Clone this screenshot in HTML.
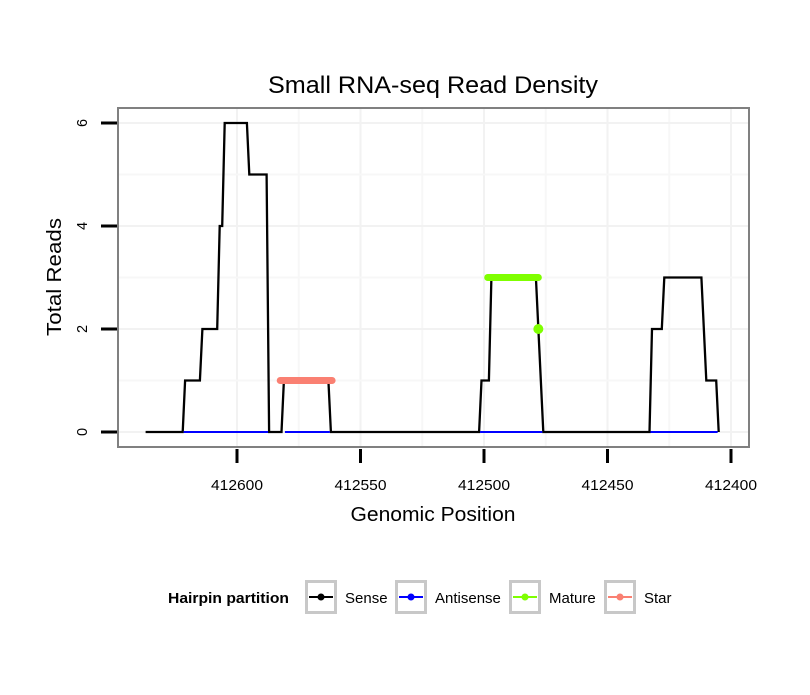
<!DOCTYPE html>
<html><head><meta charset="utf-8"><style>
body{margin:0;background:#fff}
svg text{font-family:"Liberation Sans",sans-serif}
</style></head><body>
<svg id="c" width="810" height="690" viewBox="0 0 810 690" xmlns="http://www.w3.org/2000/svg">
<rect width="810" height="690" fill="#fff"/>
<text x="433" y="93" font-size="24" text-anchor="middle" textLength="330" lengthAdjust="spacingAndGlyphs">Small RNA-seq Read Density</text>
<g id="grid"></g>
<g id="marks"></g>
<rect x="118" y="108" width="631" height="339" fill="none" stroke="#808080" stroke-width="2"/>
<g id="axes"></g>
<text x="433" y="521" font-size="20" text-anchor="middle" textLength="165" lengthAdjust="spacingAndGlyphs">Genomic Position</text>
<text transform="translate(61,277) rotate(-90)" font-size="20" text-anchor="middle" textLength="118" lengthAdjust="spacingAndGlyphs">Total Reads</text>
<g id="legend">
<text x="168" y="603" font-size="15" font-weight="bold" textLength="121" lengthAdjust="spacingAndGlyphs">Hairpin partition</text>
</g>
</svg>
<script>
const xTicks=[412600,412550,412500,412450,412400];
const yTicks=[0,2,4,6];
const sensePos=[412637,412622,412621,412615,412614,412608,412607,412606,412605,412596,412595,412588,412587,412582,412581,412563,412562,412502,412501,412498,412497,412479,412476,412433,412432,412428,412427,412412,412410,412406,412405];
const senseVal=[0,0,1,1,2,2,4,4,6,6,5,5,0,0,1,1,0,0,1,1,3,3,0,0,2,2,3,3,1,1,0];
const antisenseStart=[412622,412581,412502,412433];
const antisenseEnd=[412587,412562,412476,412405];
const starStart=[412582.5];const starEnd=[412561.5];const starVal=[1];
const matureStart=[412498.5];const matureEnd=[412478];const matureVal=[3];
const matureDotPos=[412478];const matureDotVal=[2];
const legendLabels=["Sense","Antisense","Mature","Star"];
const legendColors=["#000","#0000ff","#7fff00","#fa8072"];

const NS="http://www.w3.org/2000/svg";
const X=p=>237+(412600-p)*2.47;
const Y=v=>432-v*51.5;
function mk(t,a,parent){const e=document.createElementNS(NS,t);for(const k in a)e.setAttribute(k,a[k]);document.getElementById(parent).appendChild(e);return e;}
for(let i=0;i<xTicks.length;i++){
 const l=mk('line',{x1:X(xTicks[i]),x2:X(xTicks[i]),y1:108,y2:447,stroke:'#f2f2f2','stroke-width':2},'grid');
 
 
 if(i<xTicks.length-1){const m=(xTicks[i]+xTicks[i+1])/2;
  const l2=mk('line',{x1:X(m),x2:X(m),y1:108,y2:447,stroke:'#f7f7f7','stroke-width':2},'grid');
  
  }
}
for(let i=0;i<yTicks.length;i++){
 const l=mk('line',{x1:118,x2:749,y1:Y(yTicks[i]),y2:Y(yTicks[i]),stroke:'#f2f2f2','stroke-width':2},'grid');
 
 
 if(i<yTicks.length-1){const m=(yTicks[i]+yTicks[i+1])/2;
 const l2=mk('line',{x1:118,x2:749,y1:Y(m),y2:Y(m),stroke:'#f7f7f7','stroke-width':2},'grid');
 
 }
}
let d='';for(let i=0;i<sensePos.length;i++)d+=(i?'L':'M')+X(sensePos[i]).toFixed(1)+','+Y(senseVal[i]).toFixed(1);
const s=mk('path',{d:d,fill:'none',stroke:'#000','stroke-width':2.3,'stroke-linejoin':'miter'},'marks');


for(let i=0;i<antisenseStart.length;i++){
 const l=mk('line',{x1:X(antisenseStart[i])+1,x2:X(antisenseEnd[i])-1,y1:Y(0),y2:Y(0),stroke:'#0000ff','stroke-width':2},'marks');
 
 
}
for(let i=0;i<starStart.length;i++){
 const l=mk('line',{x1:X(starStart[i]),x2:X(starEnd[i]),y1:Y(starVal[i]),y2:Y(starVal[i]),stroke:'#fa8072','stroke-width':7,'stroke-linecap':'round'},'marks');
 
 
}
for(let i=0;i<matureStart.length;i++){
 const l=mk('line',{x1:X(matureStart[i]),x2:X(matureEnd[i]),y1:Y(matureVal[i]),y2:Y(matureVal[i]),stroke:'#7fff00','stroke-width':7,'stroke-linecap':'round'},'marks');
 
 
}
for(let i=0;i<matureDotPos.length;i++){
 const c=mk('circle',{cx:X(matureDotPos[i]),cy:Y(matureDotVal[i]),r:5,fill:'#7fff00'},'marks');
 
 
}
for(const t of xTicks){
 const l=mk('line',{x1:X(t),x2:X(t),y1:449,y2:463,stroke:'#000','stroke-width':3},'axes');
 
 
 const tx=mk('text',{x:X(t),y:490,'font-size':14.5,'text-anchor':'middle',textLength:52,lengthAdjust:'spacingAndGlyphs'},'axes');
 tx.textContent=t;
 
 
}
for(const t of yTicks){
 const l=mk('line',{x1:101,x2:117,y1:Y(t),y2:Y(t),stroke:'#000','stroke-width':3},'axes');
 
 
 const tx=mk('text',{transform:`translate(87,${Y(t)}) rotate(-90)`,'font-size':14.5,'text-anchor':'middle'},'axes');
 tx.textContent=t;
 
 
}
const kx=[305,395,509,604];
for(let i=0;i<legendLabels.length;i++){
 const b=mk('rect',{x:kx[i]+1.5,y:581.5,width:29,height:31,fill:'#fff',stroke:'#c8c8c8','stroke-width':3},'legend');
 
 
 const l=mk('line',{x1:kx[i]+4,x2:kx[i]+28,y1:597,y2:597,stroke:legendColors[i],'stroke-width':2},'legend');
 
 
 const c=mk('circle',{cx:kx[i]+16,cy:597,r:3.5,fill:legendColors[i]},'legend');
 
 
 const t=mk('text',{x:kx[i]+40,y:603,'font-size':15},'legend');
 t.textContent=legendLabels[i];
 
 
}
</script>
</body></html>
